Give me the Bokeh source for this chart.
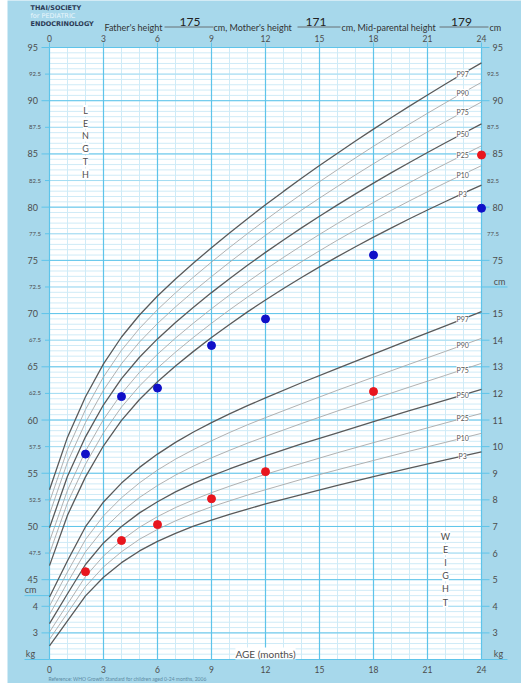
import numpy as np
from bokeh.plotting import figure
from bokeh.models import Label, LabelSet, ColumnDataSource, Range1d
from bokeh.embed import file_html
from bokeh.resources import INLINE
from bokeh.core.properties import value

# ---------------- data ----------------
father_height = "175"
mother_height = "171"
mid_parental_height = "179"

percentile_names = ["P3", "P10", "P25", "P50", "P75", "P90", "P97"]

# WHO length-for-age, boys (cm)
months_len = list(range(25))
len_p3 = [46.32, 51.06, 54.66, 57.58, 59.97, 61.93, 63.60, 65.08, 66.45, 67.75, 68.98, 70.16, 71.28,
          72.36, 73.39, 74.39, 75.35, 76.28, 77.19, 78.06, 78.91, 79.73, 80.53, 81.31, 82.07]
len_p10 = [47.46, 52.23, 55.86, 58.81, 61.22, 63.20, 64.88, 66.38, 67.77, 69.09, 70.35, 71.55, 72.70,
           73.81, 74.87, 75.90, 76.90, 77.86, 78.80, 79.71, 80.59, 81.45, 82.29, 83.10, 83.90]
len_p25 = [48.61, 53.41, 57.08, 60.05, 62.48, 64.48, 66.18, 67.70, 69.11, 70.46, 71.74, 72.97, 74.15,
           75.28, 76.38, 77.44, 78.47, 79.47, 80.44, 81.38, 82.30, 83.20, 84.07, 84.92, 85.76]
len_p50 = [49.88, 54.72, 58.42, 61.43, 63.89, 65.90, 67.62, 69.16, 70.60, 71.97, 73.28, 74.54, 75.75,
           76.92, 78.05, 79.15, 80.21, 81.25, 82.26, 83.24, 84.20, 85.13, 86.05, 86.94, 87.82]
len_p75 = [51.16, 56.04, 59.77, 62.81, 65.29, 67.33, 69.07, 70.63, 72.09, 73.48, 74.82, 76.11, 77.35,
           78.56, 79.72, 80.85, 81.95, 83.03, 84.08, 85.10, 86.10, 87.07, 88.03, 88.96, 89.88]
len_p90 = [52.31, 57.22, 60.99, 64.05, 66.55, 68.61, 70.37, 71.95, 73.43, 74.84, 76.21, 77.52, 78.79,
           80.03, 81.22, 82.39, 83.52, 84.63, 85.72, 86.77, 87.81, 88.82, 89.81, 90.78, 91.73]
len_p97 = [53.45, 58.39, 62.19, 65.28, 67.80, 69.87, 71.65, 73.25, 74.75, 76.19, 77.58, 78.92, 80.22,
           81.48, 82.71, 83.91, 85.07, 86.22, 87.33, 88.42, 89.49, 90.54, 91.57, 92.58, 93.56]

# WHO weight-for-age, boys (kg)
months_wt = [0, 1, 2, 3, 4, 5, 6, 7, 8, 9, 10, 11, 12, 14, 16, 18, 20, 22, 24]
wt_p3 = [2.51, 3.45, 4.39, 5.09, 5.64, 6.08, 6.44, 6.74, 7.01, 7.24, 7.45, 7.65, 7.85, 8.20, 8.54, 8.87, 9.19, 9.50, 9.80]
wt_p10 = [2.76, 3.75, 4.74, 5.48, 6.05, 6.52, 6.89, 7.21, 7.49, 7.74, 7.96, 8.18, 8.38, 8.77, 9.13, 9.48, 9.83, 10.16, 10.50]
wt_p25 = [3.03, 4.08, 5.12, 5.89, 6.48, 6.97, 7.37, 7.71, 8.00, 8.27, 8.51, 8.74, 8.96, 9.37, 9.77, 10.15, 10.52, 10.89, 11.25]
wt_p50 = [3.35, 4.47, 5.57, 6.38, 7.00, 7.51, 7.93, 8.30, 8.62, 8.90, 9.16, 9.41, 9.65, 10.10, 10.52, 10.94, 11.35, 11.75, 12.15]
wt_p75 = [3.69, 4.89, 6.05, 6.90, 7.55, 8.09, 8.54, 8.93, 9.27, 9.58, 9.86, 10.13, 10.38, 10.87, 11.34, 11.79, 12.24, 12.68, 13.13]
wt_p90 = [4.01, 5.29, 6.51, 7.40, 8.08, 8.64, 9.12, 9.53, 9.89, 10.22, 10.53, 10.82, 11.09, 11.61, 12.12, 12.61, 13.10, 13.58, 14.07]
wt_p97 = [4.35, 5.71, 6.99, 7.92, 8.63, 9.22, 9.72, 10.16, 10.55, 10.90, 11.23, 11.54, 11.83, 12.40, 12.94, 13.48, 14.01, 14.54, 15.07]

# measurements
meas_len_age = [2, 4, 6, 9, 12, 18, 24]
meas_len = [56.8, 62.2, 63.0, 67.0, 69.5, 75.5, 79.9]
meas_wt_age = [2, 4, 6, 9, 12, 18]
meas_wt = [5.3, 6.47, 7.07, 8.04, 9.06, 12.07]
red_len_age = [24]
red_len = [84.9]

# ticks
age_ticks = [0, 3, 6, 9, 12, 15, 18, 21, 24]
age_minor = list(range(25))
left_len_major = [45, 50, 55, 60, 65, 70, 75, 80, 85, 90, 95]
left_len_half = [47.5, 52.5, 57.5, 62.5, 67.5, 72.5, 77.5, 82.5, 87.5, 92.5]
left_wt_ticks = [3, 4]
right_len_major = [75, 80, 85, 90, 95]
right_len_half = [77.5, 82.5, 87.5, 92.5]
right_wt_ticks = [3, 4, 5, 6, 7, 8, 9, 10, 11, 12, 13, 14, 15]
len_sep_left = 43.5
len_sep_right = 72.5

# ---------------- geometry / styles ----------------
W, H = 521, 683
AGE0, AGE1 = 0, 24
L0, L1 = 37.5, 95.0
FRAME_L, FRAME_T, FRAME_W, FRAME_H = 49, 47, 432, 612
PXM = FRAME_W / (AGE1 - AGE0)   # px per month
PXL = FRAME_H / (L1 - L0)       # px per cm


def l2w(l):
    return (l - 32.5) / 2.5


def w2l(w):
    return 32.5 + 2.5 * w


def px2m(px):
    return (px - FRAME_L) / PXM


def py2l(py):
    return L1 - (py - FRAME_T) / PXL


BG = "#a7d8eb"
MAJ = "#5ec4ea"
MED = "#a4dcf2"
MIN = "#cfebf7"
TXT = "#4d4d4d"
DARK = "#5a5a5a"
LIGHT = "#a8a8a8"
FONT = "Lato"

p = figure(width=W, height=H, x_range=Range1d(px2m(7), px2m(W)), y_range=Range1d(py2l(H), py2l(0)),
           output_backend="svg", toolbar_location=None, x_axis_location=None, y_axis_location=None,
           min_border_left=7, min_border_right=0, min_border_top=0, min_border_bottom=0)
p.extra_y_ranges = {"wt": Range1d(l2w(py2l(H)), l2w(py2l(0)))}
p.border_fill_color = "white"
p.background_fill_color = BG
p.outline_line_color = None
p.grid.visible = False

# plot area
p.quad(left=[AGE0], right=[AGE1], bottom=[L0], top=[L1], fill_color="white", line_color=None)


def hlines(vals, color, width, x0=AGE0, x1=AGE1):
    n = len(vals)
    p.segment(x0=[x0] * n, y0=list(vals), x1=[x1] * n, y1=list(vals), line_color=color, line_width=width)


def vlines(vals, color, width, y0=L0, y1=L1):
    n = len(vals)
    p.segment(x0=list(vals), y0=[y0] * n, x1=list(vals), y1=[y1] * n, line_color=color, line_width=width)


minor_h = [v for v in np.arange(L0, L1 + 0.01, 0.5)]
med_h = [v for v in np.arange(42.5, L1, 5.0)]
major_h = [v for v in np.arange(40.0, L1 + 0.01, 5.0)]
vlines(age_minor, MIN, 1)
hlines(minor_h, MIN, 1)
hlines(med_h, MED, 1)
hlines(major_h, MAJ, 1)
vlines(age_ticks, MAJ, 1.2)
hlines([L0], MAJ, 1.2)

# tick marks outside plot area
vlines(age_ticks, MAJ, 1, y0=L1, y1=L1 + 5 / PXL)
left_tick_vals = left_len_major + [w2l(w) for w in left_wt_ticks]
hlines(left_tick_vals, MAJ, 1, x0=px2m(41), x1=AGE0)
hlines(left_len_half, MAJ, 1, x0=px2m(44.5), x1=AGE0)
hlines([len_sep_left, L0], MAJ, 1, x0=px2m(24), x1=AGE0)
right_tick_vals = right_len_major + [w2l(w) for w in right_wt_ticks]
hlines(right_tick_vals, MAJ, 1, x0=AGE1, x1=px2m(489))
hlines([len_sep_right, L0], MAJ, 1, x0=AGE1, x1=px2m(507))

# tick labels
def txt(x, y, t, size, align="center", baseline="middle", color=TXT, font=FONT, style="normal", rn="default"):
    p.text(x=x, y=y, text=t, text_align=align, text_baseline=baseline, text_color=color,
           text_font=value(font), text_font_size=value(size), text_font_style=style, y_range_name=rn)


txt(age_ticks, [py2l(38)] * len(age_ticks), [str(a) for a in age_ticks], "8.5px")
txt(age_ticks, [py2l(669)] * len(age_ticks), [str(a) for a in age_ticks], "8.5px")
txt([px2m(37.5)] * len(left_len_major), left_len_major, [str(v) for v in left_len_major], "9px", align="right")
txt([px2m(28.5)] * len(left_len_half), left_len_half, [str(v) for v in left_len_half], "6px", align="left")
txt([px2m(37.5)] * len(left_wt_ticks), left_wt_ticks, [str(v) for v in left_wt_ticks], "9px", align="right", rn="wt")
txt([px2m(492)] * len(right_len_major), right_len_major, [str(v) for v in right_len_major], "9px", align="left")
txt([px2m(486.5)] * len(right_len_half), right_len_half, [str(v) for v in right_len_half], "6px", align="left")
txt([px2m(492)] * len(right_wt_ticks), right_wt_ticks, [str(v) for v in right_wt_ticks], "9px", align="left", rn="wt")

# unit labels
txt([px2m(30), px2m(30), px2m(499), px2m(498)],
    [py2l(594), py2l(658), py2l(286), py2l(658)], ["cm", "kg", "cm", "kg"], "9px", baseline="bottom")

# percentile curves
len_curves = [len_p3, len_p10, len_p25, len_p50, len_p75, len_p90, len_p97]
wt_curves = [wt_p3, wt_p10, wt_p25, wt_p50, wt_p75, wt_p90, wt_p97]
for name, lc, wc in zip(percentile_names, len_curves, wt_curves):
    dark = name in ("P3", "P50", "P97")
    col = DARK if dark else LIGHT
    lw = 1.3 if dark else 0.9
    p.line(months_len, lc, line_color=col, line_width=lw)
    p.line(months_wt, wc, line_color=col, line_width=lw, y_range_name="wt")

# percentile labels on the curves
lab_x = 22.95
len_lab = ColumnDataSource(dict(x=[lab_x] * 7,
                                y=[float(np.interp(lab_x, months_len, c)) for c in len_curves],
                                t=percentile_names))
wt_lab = ColumnDataSource(dict(x=[lab_x] * 7,
                               y=[float(np.interp(lab_x, months_wt, c)) for c in wt_curves],
                               t=percentile_names))
for src, rn in ((len_lab, "default"), (wt_lab, "wt")):
    p.add_layout(LabelSet(x="x", y="y", text="t", source=src, y_range_name=rn,
                          text_align="center", text_baseline="middle",
                          text_font=value(FONT), text_font_size=value("7px"),
                          text_color="#555555", background_fill_color="white"))

# measurement points
p.scatter(meas_len_age, meas_len, size=8, color="#1010c8")
p.scatter(meas_wt_age, meas_wt, size=8, color="#e8161e", y_range_name="wt")
p.scatter(red_len_age, red_len, size=8, color="#e8161e")

# vertical words
src_l = ColumnDataSource(dict(x=[px2m(85)] * 6, y=[py2l(110 + 12.7 * i) for i in range(6)], t=list("LENGTH")))
src_w = ColumnDataSource(dict(x=[px2m(445)] * 6, y=[py2l(536 + 13.1 * i) for i in range(6)], t=list("WEIGHT")))
for src in (src_l, src_w):
    p.add_layout(LabelSet(x="x", y="y", text="t", source=src, text_align="center",
                          text_baseline="middle", text_font=value(FONT),
                          text_font_size=value("9px"), text_color=TXT,
                          background_fill_color="white"))

p.add_layout(Label(x=12, y=py2l(653), text="AGE (months)", text_align="center",
                   text_baseline="middle", text_font=FONT, text_font_size="10px",
                   text_color=TXT, background_fill_color="white"))

# footer
txt([px2m(48)], [py2l(678)], ["Reference: WHO Growth Standard for children aged 0-24 months, 2006"],
    "5px", align="left", color="#5b8aa3")

# header
txt([px2m(104), px2m(213), px2m(341), px2m(489)], [py2l(26.5)] * 4,
    ["Father's height", "cm, Mother's height", "cm, Mid-parental height", "cm"],
    "9px", align="left", baseline="alphabetic", color="#333333")
txt([px2m(189.5), px2m(315.5), px2m(461)], [py2l(21.5)] * 3,
    [father_height, mother_height, mid_parental_height], "12px", baseline="alphabetic", color="#222222")
ul_x0 = [px2m(164), px2m(297), px2m(439)]
ul_x1 = [px2m(213), px2m(340), px2m(488)]
p.segment(x0=ul_x0, y0=[py2l(26.5)] * 3, x1=ul_x1, y1=[py2l(26.5)] * 3, line_color="#555555", line_width=0.8)

# logo
txt([px2m(30)], [py2l(7.5)], ["THAI/SOCIETY"], "6.5px", align="left", color="#2b3a55",
    font="DejaVu Sans", style="bold")
txt([px2m(30)], [py2l(15.5)], ["for PEDIATRIC"], "6.5px", align="left", color="#eaf6fb",
    font="DejaVu Sans")
txt([px2m(30)], [py2l(23.5)], ["ENDOCRINOLOGY"], "6.5px", align="left", color="#2b3a55",
    font="DejaVu Sans", style="bold")

open("out.html", "w").write(file_html(p, INLINE))
